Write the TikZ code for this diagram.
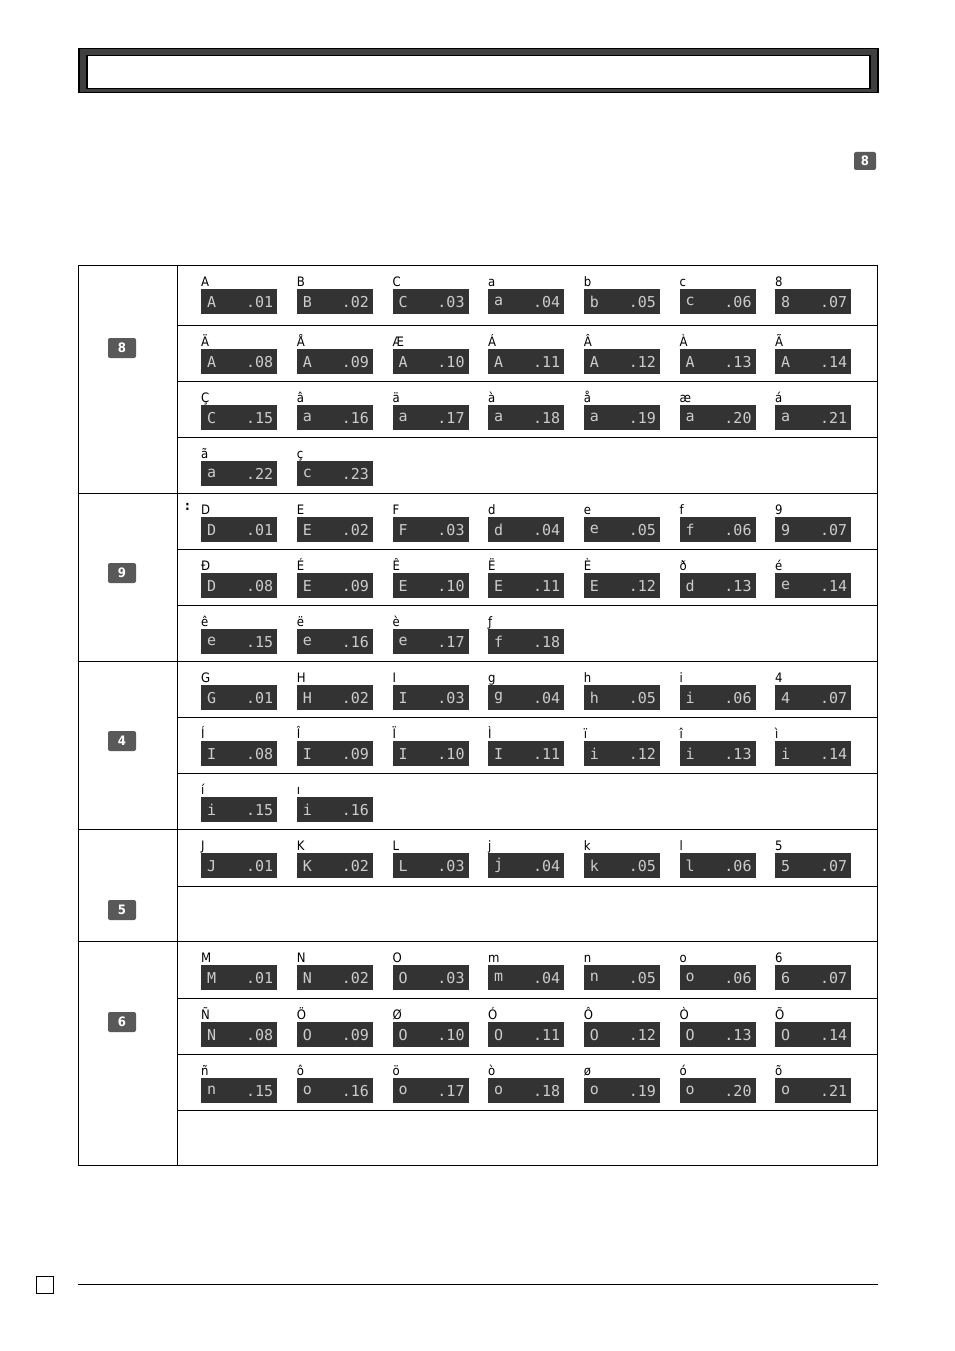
\documentclass[tikz,border=0pt]{standalone}
\usepackage{fontspec}
\setmainfont{DejaVu Sans Condensed}
\newfontfamily\segfont{DejaVu Sans Mono}
\begin{document}
\begin{tikzpicture}[x=1pt,y=-1pt,
  lab/.style={anchor=base west,inner sep=0pt,font=\fontsize{13}{13}\selectfont},
  disp/.style={fill=black!80,draw=none,minimum width=76pt,minimum height=25pt,anchor=north west,inner sep=0pt},
  segtxt/.style={text=black!20,font=\segfont\fontsize{15}{15}\selectfont,inner sep=0pt},
  badge/.style={fill=black!65,rounded corners=2pt,minimum width=28pt,minimum height=20pt,inner sep=0pt,text=white,font=\bfseries\fontsize{13}{13}\selectfont},
  grid/.style={draw=black,line width=0.8pt}]
\useasboundingbox (0,0) rectangle (954,1351);
% header
\node[draw=black,line width=1.5pt,fill=black!75,minimum width=799pt,minimum height=44pt,anchor=north west,inner sep=0pt] (hdr) at (78,48) {};
\node[draw=black,line width=1.5pt,fill=white,minimum width=783pt,minimum height=33pt,anchor=north west,inner sep=0pt] (hdrin) at (86,55) {};
\node[badge,minimum width=22pt,minimum height=18pt] (topbadge) at (865,161) {8};
% table
\draw[grid] (78,265) rectangle (877,1165);
\draw[grid] (177,265) -- (177,1165);
\foreach \yy in {493,661,829,941} \draw[grid] (78,\yy) -- (877,\yy);
\foreach \yy in {325,381,437,549,605,717,773,886,998,1054,1110} \draw[grid] (177,\yy) -- (877,\yy);
\node[badge] (k8) at (122,348) {8};
\node[badge] (k9) at (122,573) {9};
\node[badge] (k4) at (122,741) {4};
\node[badge] (k5) at (122,910) {5};
\node[badge] (k6) at (122,1022) {6};
\node[lab,font=\bfseries\fontsize{13}{13}\selectfont] (colon) at (185,510) {:};
\newcommand{\crow}[3]{%
  \foreach \l/\d/\n [count=\i from 0] in {#2} {
    \pgfmathsetmacro{\cx}{201+95.67*\i}
    \node[lab] (l#3\i) at (\cx,286) [yshift={-( #1-265)*1pt}] {\l};
    \node[disp] (d#3\i) at (\cx,#1+24) {};
    \node[segtxt,anchor=west] (c#3\i) at ([xshift=6pt]d#3\i.west) {\d};
    \node[segtxt,anchor=east] (n#3\i) at ([xshift=-4pt]d#3\i.east) {.\n};
  }}
\crow{265}{A/A/01,B/B/02,C/C/03,a/a/04,b/b/05,c/c/06,8/8/07}{a}
\crow{325}{Ä/A/08,Å/A/09,Æ/A/10,Á/A/11,Â/A/12,À/A/13,Ã/A/14}{b}
\crow{381}{Ç/C/15,â/a/16,ä/a/17,à/a/18,å/a/19,æ/a/20,á/a/21}{c}
\crow{437}{ã/a/22,ç/c/23}{d}
\crow{493}{D/D/01,E/E/02,F/F/03,d/d/04,e/e/05,f/f/06,9/9/07}{e}
\crow{549}{Đ/D/08,É/E/09,Ê/E/10,Ë/E/11,È/E/12,ð/d/13,é/e/14}{f}
\crow{605}{ê/e/15,ë/e/16,è/e/17,ƒ/f/18}{g}
\crow{661}{G/G/01,H/H/02,I/I/03,g/g/04,h/h/05,i/i/06,4/4/07}{h}
\crow{717}{Í/I/08,Î/I/09,Ï/I/10,Ì/I/11,ï/i/12,î/i/13,ì/i/14}{i}
\crow{773}{í/i/15,ı/i/16}{j}
\crow{829}{J/J/01,K/K/02,L/L/03,j/j/04,k/k/05,l/l/06,5/5/07}{k}
\crow{941}{M/M/01,N/N/02,O/O/03,m/m/04,n/n/05,o/o/06,6/6/07}{l}
\crow{998}{Ñ/N/08,Ö/O/09,Ø/O/10,Ó/O/11,Ô/O/12,Ò/O/13,Õ/O/14}{m}
\crow{1054}{ñ/n/15,ô/o/16,ö/o/17,ò/o/18,ø/o/19,ó/o/20,õ/o/21}{n}
% footer
\node[draw=black,line width=0.8pt,minimum size=17pt,inner sep=0pt] (pg) at (45,1285) {};
\draw[line width=0.6pt] (78,1284) -- (878,1284);
\end{tikzpicture}
\end{document}
